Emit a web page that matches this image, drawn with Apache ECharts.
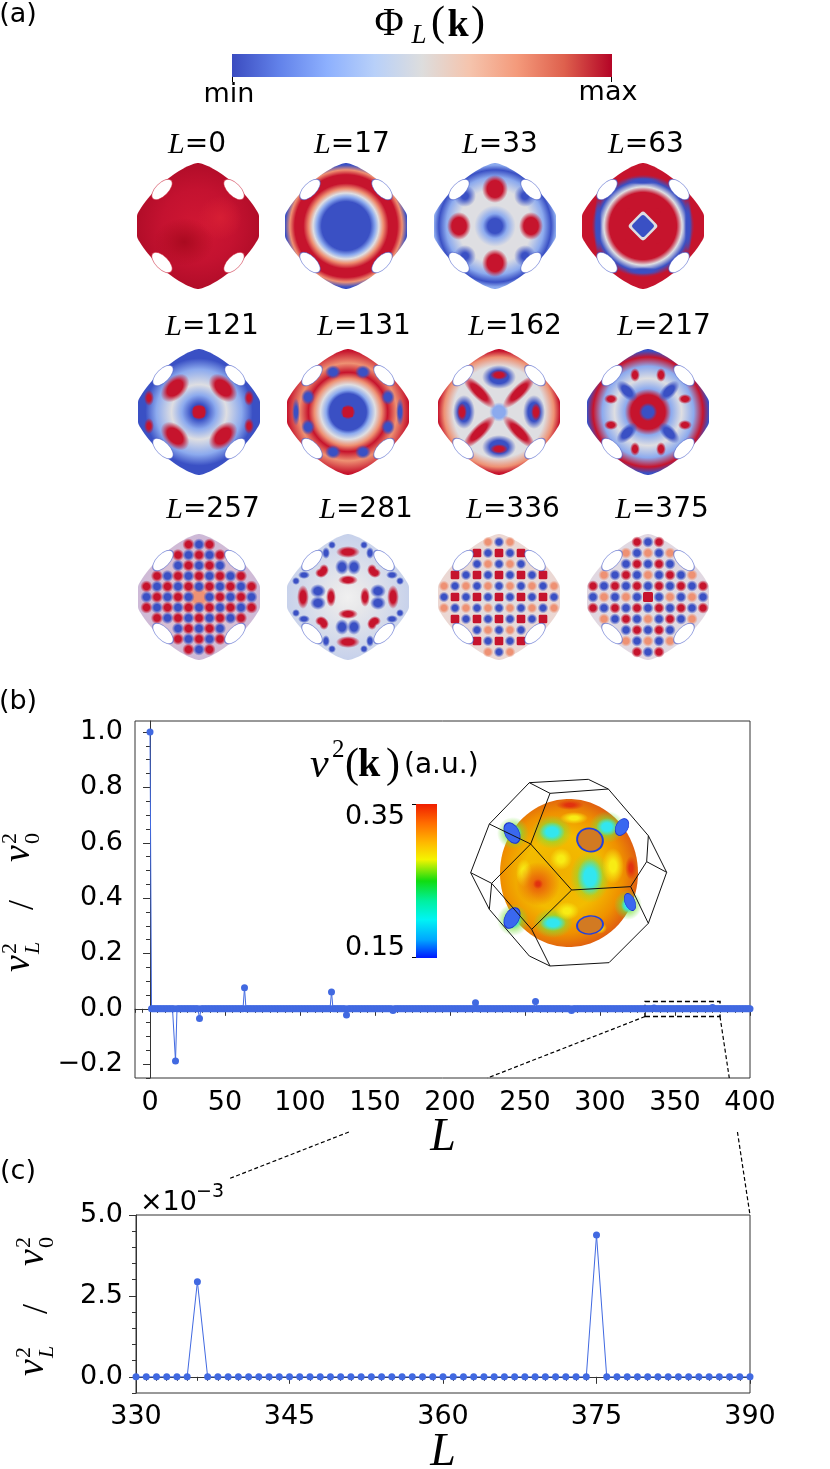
<!DOCTYPE html>
<html><head><meta charset="utf-8">
<script src="https://cdn.jsdelivr.net/npm/echarts@6/dist/echarts.min.js"></script>
<style>html,body{margin:0;padding:0;background:#fff}#c{width:830px;height:1469px}</style>
</head><body><div id="c"></div>
<script>
// ---------------- data ----------------
const peakL = [0, 17, 33, 63, 121, 131, 162, 217, 257, 281, 336, 375];
const peakV = [1.0, -0.189, -0.035, 0.076, 0.061, -0.022, -0.006, 0.022, 0.026, -0.006, 0.00294, 0.00438];
const Lmax = 400;
const xTicksB = [0, 50, 100, 150, 200, 250, 300, 350, 400];
const yTicksB = [-0.2, 0, 0.2, 0.4, 0.6, 0.8, 1.0];
const xTicksC = [330, 345, 360, 375, 390];
const yTicksC = [0, 0.0025, 0.005];
const panelLabels = ['0', '17', '33', '63', '121', '131', '162', '217', '257', '281', '336', '375'];
const zoomRange = [330, 390];
const zoomBox = [330, 380, -0.028, 0.026];

// series built from the arrays (every integer L, zero where no peak)
const seriesB = [];
for (let L = 0; L <= Lmax; L++) {
  const k = peakL.indexOf(L);
  seriesB.push([L, k >= 0 ? peakV[k] : 0]);
}
const seriesC = seriesB.filter(d => d[0] >= zoomRange[0] && d[0] <= zoomRange[1]);

// minor tick positions
const xMinorB = []; for (let k = -2; k <= 80; k++) xMinorB.push(k * 5);
const yMinorB = []; for (let k = -5; k <= 20; k++) yMinorB.push(+(k * 0.05).toFixed(2));
const yMinorC = []; for (let k = -1; k <= 10; k++) yMinorC.push(+(k * 0.0005).toFixed(4));

const BLUE = '#4169e1';
const AX = '#333';
const SANS = 'DejaVu Sans';
const SERIF = 'Liberation Serif';

// ---------------- decorative helpers ----------------
const COL = {R:[198,20,45], DR:[160,8,30], B:[58,80,196], LB:[140,170,238], W:[222,222,226], LR:[238,145,115]};
const rgba = (c, a) => `rgba(${c[0]},${c[1]},${c[2]},${a})`;
function blob(x, y, rx, ry, rot, c, soft) {
  soft = soft == null ? 0.5 : soft;
  return {type:'circle', x:x, y:y, rotation:rot || 0, scaleX:rx/10, scaleY:ry/10, silent:true,
    shape:{cx:0, cy:0, r:10},
    style:{fill:{type:'radial', x:0.5, y:0.5, r:0.5, colorStops:[
      {offset:0, color:rgba(c,1)}, {offset:soft, color:rgba(c,1)}, {offset:1, color:rgba(c,0)}]}}};
}
function sq(x, y, s, rot, c) {
  return {type:'rect', x:x, y:y, rotation:rot || 0, silent:true, shape:{x:-s/2, y:-s/2, width:s, height:s, r:s*0.15}, style:{fill:rgba(c,1)}};
}
function quad(fn) { const o = []; for (const sx of [-1,1]) for (const sy of [-1,1]) o.push(fn(sx, sy)); return o; }
function rot4(fn) { const o = []; for (let q = 0; q < 4; q++) o.push(...fn(q)); return o; }
const RAD = (sx, sy) => -sx * sy * Math.PI / 4;
const NEXP = 1.42;
function outline(a, b, n) {
  const pts = [];
  for (let i = 0; i < 160; i++) {
    const t = i / 160 * 2 * Math.PI, c = Math.cos(t), s = Math.sin(t);
    let x = a * Math.sign(c) * Math.pow(Math.abs(c), 2/n);
    const y = b * Math.sign(s) * Math.pow(Math.abs(s), 2/n);
    x = Math.max(-61, Math.min(61, x));
    pts.push([x, y]);
  }
  return pts;
}
const SHAPE = outline(65, 63, NEXP);
function inside(x, y, m) { return Math.pow(Math.abs(x)/60, NEXP) + Math.pow(Math.abs(y)/59, NEXP) <= (m || 1); }
function nearHole(x, y) { return Math.hypot(Math.abs(x) - 35, Math.abs(y) - 35.5) < 11; }
function stops(list) { return list.map(s => ({offset:s[0], color: Array.isArray(s[1]) ? rgba(s[1],1) : s[1]})); }
function lattice(step, fn, r, m) {
  const o = [];
  const n = Math.floor(62 / step);
  for (let i = -n; i <= n; i++) for (let j = -n; j <= n; j++) {
    const x = i * step, y = j * step;
    if (!inside(x, y, m || 0.95) || nearHole(x, y)) continue;
    const c = fn(i, j, x, y);
    if (c) o.push(c.sq ? sq(x, y, r * 1.6, 0, c.col) : blob(x, y, r, r, 0, c.col || c, 0.5));
  }
  return o;
}
const {R, DR, B, LB, W, LR} = COL;
function rq(q, x, y) { const c = [[1,0],[0,1],[-1,0],[0,-1]][q]; return [c[0]*x - c[1]*y, c[1]*x + c[0]*y]; }

const panels = [
  { base: [[0,'#d01733'],[0.6,'#c41230'],[1,'#b20d29']],
    blobs: [blob(-14, 16, 30, 24, 0, [170,10,32], 0), blob(22, -8, 22, 22, 0, [214,30,52], 0)] },
  { base: [[0,B],[0.4,B],[0.48,LB],[0.54,W],[0.61,LR],[0.7,R],[0.84,R],[0.92,LR],[1,B]], blobs: [] },
  { base: [[0,B],[0.12,B],[0.2,LB],[0.34,W],[0.6,W],[0.8,LB],[0.92,B],[1,LB]],
    blobs: quad((sx,sy)=>blob(sx*30, sy*30, 11, 11, 0, B, 0.3))
      .concat([blob(0,-37,13,14,0,R,0.6), blob(0,37,13,14,0,R,0.6), blob(-36,0,12,14,0,R,0.6), blob(36,0,12,14,0,R,0.6)]) },
  { base: [[0,B],[0.17,B],[0.22,W],[0.27,R],[0.55,R],[0.64,W],[0.74,B],[0.84,R],[1,R]],
    blobs: [sq(0,0,36,0,R), sq(0,0,22,Math.PI/4,W), sq(0,0,17,Math.PI/4,B),
            blob(-45,0,4,30,0,B,0.4), blob(45,0,4,30,0,B,0.4), blob(0,-45,18,4,0,B,0.4), blob(0,45,18,4,0,B,0.4)] },
  { base: [[0,R],[0.09,R],[0.13,B],[0.28,LB],[0.45,W],[0.7,LB],[0.88,B],[1,B]],
    blobs: [sq(0,0,11,0,R)].concat(quad((sx,sy)=>blob(sx*24, sy*24, 17, 11, -RAD(sx,sy), R, 0.55)))
      .concat(quad((sx,sy)=>blob(sx*50, sy*14, 5, 8, 0, R, 0.4))) },
  { base: [[0,R],[0.08,R],[0.12,B],[0.3,B],[0.36,LB],[0.45,W],[0.55,LR],[0.65,R],[0.8,LR],[1,R]],
    blobs: [sq(0,0,10,0,R)].concat(quad((sx,sy)=>blob(sx*15, sy*40, 8, 7, 0, B, 0.5)))
      .concat(quad((sx,sy)=>blob(sx*40, sy*15, 7, 8, 0, B, 0.5)))
      .concat([blob(-52,0,4,14,0,B,0.4), blob(52,0,4,14,0,B,0.4)]) },
  { base: [[0,LB],[0.1,LB],[0.16,W],[0.75,W],[0.9,LR],[1,R]],
    blobs: quad((sx,sy)=>blob(sx*20, sy*20, 22, 7, RAD(sx,sy), R, 0.5))
      .concat([blob(0,-35,17,12,0,B,0.55), blob(0,35,17,12,0,B,0.55), blob(-35,0,11,17,0,B,0.55), blob(35,0,11,17,0,B,0.55),
               blob(0,-37,9,5,0,R,0.5), blob(0,37,9,5,0,R,0.5), blob(-37,0,5,9,0,R,0.5), blob(37,0,5,9,0,R,0.5),
               blob(0,0,7,7,0,LB,0.5)]) },
  { base: [[0,B],[0.09,B],[0.15,R],[0.28,R],[0.38,LB],[0.55,W],[0.75,LB],[0.9,R],[1,B]],
    blobs: quad((sx,sy)=>blob(sx*21, sy*21, 13, 7, RAD(sx,sy), B, 0.5))
      .concat(quad((sx,sy)=>blob(sx*13, sy*37, 5, 7, 0, R, 0.5)))
      .concat(quad((sx,sy)=>blob(sx*37, sy*13, 7, 5, 0, R, 0.5))) },
  { base: [[0,LR],[0.1,LR],[0.2,[230,200,205]],[1,[205,185,215]]],
    blobs: lattice(10.5, (i,j)=> (i===0 && j===0) ? null : ((i+j)%2===0 ? R : B), 6.2, 1.02) },
  { base: [[0,'#f0f0f0'],[0.25,'#e8e8ea'],[1,[200,210,235]]],
    blobs: rot4(q => {
      const e = [];
      const P = (x,y,rx,ry,c)=>{ const p = rq(q,x,y); const sw = q%2===1; e.push(blob(p[0], p[1], sw?ry:rx, sw?rx:ry, 0, c, 0.5)); };
      P(-6,-30,7,8,B); P(6,-30,7,8,B); P(0,-45,12,6,R); P(0,-17,10,5,R);
      P(-22,-44,4,6,B); P(22,-44,4,6,B); P(-27,-24,6,5,R); P(27,-24,6,5,R);
      P(-16,-52,4,4,B); P(16,-52,4,4,B);
      return e; }) },
  { base: [[0,W],[1,[236,215,210]]],
    blobs: lattice(11, (i,j)=> (i%2===0 && j%2===0) ? {sq:true, col:R} : ((i+j)%2 ? {col:B} : {col:LR}), 5.4, 1.02) },
  { base: [[0,W],[1,[225,215,225]]],
    blobs: [sq(0,0,10,0,R)].concat(lattice(11, (i,j)=> (i===0 && j===0) ? null :
      ((Math.abs(i)===Math.abs(j)) ? R : ((i+j)%2 ? B : ((i%2===0) ? LR : R))), 5.8, 1.02)) }
];
const centersX = [[198,346,495,643],[199,348,499,648],[199,348,499,648]];
const centersY = [226, 412, 597];
const labelX = [[197,352,500,646],[212,364,515,664],[213,366,513,662]];
const labelY = [145, 327, 510];

function panelGroup(k) {
  const r = Math.floor(k/4), c = k % 4;
  const p = panels[k];
  const children = [{type:'polygon', silent:true, shape:{points:SHAPE},
    style:{fill:{type:'radial', x:0.5, y:0.5, r:0.5, colorStops:stops(p.base)}}}];
  p.blobs.forEach(b => children.push(b));
  quad((sx,sy)=> children.push({type:'circle', x:sx*36, y:sy*36.5, rotation:(sx*sy>0?1:-1)*Math.PI/4,
    scaleX:1.3, scaleY:0.64, silent:true, shape:{cx:0,cy:0,r:10}, style:{fill:'#fff', stroke:rgba(k===0?R:B,0.6), lineWidth:1}}));
  return {type:'group', x:centersX[r][c], y:centersY[r], children:children};
}

function txt(x, y, text, o) {
  return Object.assign({type:'text', x:x, y:y, silent:true,
    style:Object.assign({text:text, fill:'#000', fontFamily:SANS, fontSize:27, align:'center', verticalAlign:'middle'}, o || {})});
}

function yLabel(gx, gy) {
  const it = {fontFamily:SERIF, fontStyle:'italic'};
  return {type:'group', x:gx, y:gy, rotation:Math.PI/2, children:[
    txt(-72, 8, 'v', Object.assign({fontSize:38, align:'left', verticalAlign:'bottom'}, it)),
    txt(-54, 14, 'L', Object.assign({fontSize:22, align:'left', verticalAlign:'bottom'}, it)),
    txt(-54, -9, '2', {fontFamily:SERIF, fontSize:22, align:'left', verticalAlign:'bottom'}),
    txt(-10, 12, '/', {fontFamily:SERIF, fontSize:36, align:'left', verticalAlign:'bottom'}),
    txt(38, 8, 'v', Object.assign({fontSize:38, align:'left', verticalAlign:'bottom'}, it)),
    txt(56, 14, '0', {fontFamily:SERIF, fontSize:22, align:'left', verticalAlign:'bottom'}),
    txt(56, -9, '2', {fontFamily:SERIF, fontSize:22, align:'left', verticalAlign:'bottom'})
  ]};
}

const graphics = [];
graphics.push(txt(18, 15, '(a)'), txt(18, 702, '(b)'), txt(18, 1172, '(c)'));
graphics.push(
  txt(389, 24, 'Φ', {fontFamily:SERIF, fontSize:40}),
  txt(419, 36, 'L', {fontFamily:SERIF, fontStyle:'italic', fontSize:27}),
  txt(438, 24, '(', {fontFamily:SERIF, fontSize:42}),
  txt(458, 26, 'k', {fontFamily:SERIF, fontWeight:'bold', fontSize:38}),
  txt(478, 24, ')', {fontFamily:SERIF, fontSize:42})
);
graphics.push({type:'rect', silent:true, shape:{x:232, y:54, width:380, height:23},
  style:{fill:{type:'linear', x:0, y:0, x2:1, y2:0, colorStops:[
    {offset:0, color:'#3b4cc0'}, {offset:0.125, color:'#6282ea'}, {offset:0.25, color:'#8db0fe'},
    {offset:0.375, color:'#b8d0f9'}, {offset:0.5, color:'#dddddd'}, {offset:0.625, color:'#f5c4ad'},
    {offset:0.75, color:'#f49a7b'}, {offset:0.875, color:'#de604d'}, {offset:1, color:'#b40426'}]}}});
graphics.push({type:'line', silent:true, shape:{x1:232.5, y1:77, x2:232.5, y2:82}, style:{stroke:'#000', lineWidth:1}});
graphics.push({type:'line', silent:true, shape:{x1:611.5, y1:77, x2:611.5, y2:82}, style:{stroke:'#000', lineWidth:1}});
graphics.push(txt(229, 95, 'min'), txt(608, 93, 'max'));
for (let k = 0; k < 12; k++) {
  graphics.push(panelGroup(k));
  const r = Math.floor(k/4), c = k % 4;
  graphics.push({type:'text', x:labelX[r][c], y:labelY[r], silent:true, style:{
    text:'{a|L}{b|=' + panelLabels[k] + '}', align:'center', verticalAlign:'middle', fill:'#000',
    rich:{a:{fontFamily:SERIF, fontStyle:'italic', fontSize:30, fill:'#000'}, b:{fontFamily:SANS, fontSize:28, fill:'#000'}}}});
}
graphics.push(
  txt(310, 766, 'v', {fontFamily:SERIF, fontStyle:'italic', fontSize:42, align:'left'}),
  txt(332, 750, '2', {fontFamily:SERIF, fontSize:25, align:'left'}),
  txt(345, 766, '(', {fontFamily:SERIF, fontSize:42, align:'left'}),
  txt(358, 766, 'k', {fontFamily:SERIF, fontWeight:'bold', fontSize:40, align:'left'}),
  txt(386, 766, ')', {fontFamily:SERIF, fontSize:42, align:'left'}),
  txt(404, 766, '(a.u.)', {fontSize:28, align:'left'})
);
graphics.push({type:'rect', silent:true, shape:{x:416, y:804, width:21, height:154},
  style:{fill:{type:'linear', x:0, y:0, x2:0, y2:1, colorStops:[
    {offset:0, color:'#f01e00'}, {offset:0.12, color:'#ff6a00'}, {offset:0.25, color:'#ffb800'},
    {offset:0.36, color:'#f4f400'}, {offset:0.5, color:'#10dc10'}, {offset:0.63, color:'#00f0a0'},
    {offset:0.75, color:'#00f4f4'}, {offset:0.88, color:'#00a8ff'}, {offset:1, color:'#0018ff'}]}}});
graphics.push({type:'line', silent:true, shape:{x1:412, y1:804.5, x2:416, y2:804.5}, style:{stroke:'#000', lineWidth:1}});
graphics.push({type:'line', silent:true, shape:{x1:412, y1:957.5, x2:416, y2:957.5}, style:{stroke:'#000', lineWidth:1}});
graphics.push(txt(405, 817, '0.35', {align:'right'}), txt(405, 948, '0.15', {align:'right'}));
(function () {
  const cx = 569, cy = 873;
  const pts = []; for (let i = 0; i < 90; i++) { const t = i/90*2*Math.PI; pts.push([69*Math.cos(t), 74*Math.sin(t)]); }
  const ch = [{type:'polygon', silent:true, shape:{points:pts}, style:{fill:{type:'radial', x:0.45, y:0.5, r:0.55, colorStops:[
    {offset:0, color:'#f0b000'}, {offset:0.5, color:'#f3bc00'}, {offset:0.8, color:'#ef9000'}, {offset:1, color:'#e06010'}]}}}];
  const Y = [248,236,20], G = [120,225,60], C = [50,230,240], RR = [225,50,15], OR = [234,100,10];
  const cyan = [[-17,-41,13,10],[38,-46,11,9],[21,4,13,19],[-16,50,13,8],[-56,47,9,9],[-56,-40,9,9],[59,32,7,8]];
  cyan.forEach(q=> ch.push(blob(q[0], q[1], q[2]+7, q[3]+7, 0, G, 0.2)));
  [[44,-7,11,18],[-8,-14,11,11],[-2,38,12,9],[30,55,8,6],[-45,0,8,14],[5,-55,14,6]].forEach(q=> ch.push(blob(q[0], q[1], q[2], q[3], 0, Y, 0.3)));
  cyan.forEach(q=> ch.push(blob(q[0], q[1], q[2], q[3], 0, C, 0.45)));
  ch.push(blob(-31, 11, 22, 22, 0, OR, 0.2), blob(-31, 11, 5, 5, 0, RR, 0.4), blob(1, -68, 14, 5, 0, RR, 0.3), blob(62,-5,6,12,0,RR,0.3));
  [[21,-33,13,11.5,-0.3],[21,52,13,9,0.1]].forEach(q=> ch.push({type:'circle', x:q[0], y:q[1], rotation:q[4], scaleX:q[2]/10, scaleY:q[3]/10, silent:true,
    shape:{cx:0,cy:0,r:10}, style:{fill:'#d27a22', stroke:'#2040e0', lineWidth:1.5}}));
  [[-57,-40,7,11,0.5],[53,-46,6,9,-0.5],[-57,45,7,11,-0.5],[61,29,5,9,0.4]].forEach(q=> ch.push({type:'circle', x:q[0], y:q[1], rotation:q[4], scaleX:q[2]/10, scaleY:q[3]/10, silent:true,
    shape:{cx:0,cy:0,r:10}, style:{fill:'#3a68f0', stroke:'#1a30d0', lineWidth:1}}));
  graphics.push({type:'group', x:cx, y:cy, children:ch});
  const tf = p => [400 + p[0]/3, 680 + p[1]/3];
  const wire = [
    [[388,308],[565,298],[625,327],[745,467],[800,577],[745,730],[627,848],[450,858],[388,828],[268,688],[212,578],[268,432],[388,308]],
    [[388,308],[450,340],[625,327]], [[450,340],[392,492]], [[268,432],[392,492],[515,630],[692,620]],
    [[392,492],[275,610],[395,748],[515,630]], [[212,578],[275,610]], [[395,748],[450,858]],
    [[745,467],[740,545],[800,577]], [[740,545],[692,620],[745,730]], [[275,610],[268,688]]
  ];
  wire.forEach(w => graphics.push({type:'polyline', silent:true, shape:{points:w.map(tf)}, style:{stroke:'#111', lineWidth:1, fill:null}}));
})();
graphics.push(txt(443, 1138, 'L', {fontFamily:SERIF, fontStyle:'italic', fontSize:46}));
graphics.push(txt(443, 1453, 'L', {fontFamily:SERIF, fontStyle:'italic', fontSize:46}));
graphics.push(yLabel(30, 900), yLabel(44, 1304));
graphics.push(txt(140, 1203, '×10', {align:'left', fontSize:27}), txt(196, 1192, '−3', {align:'left', fontSize:19}));

// ---------------- chart ----------------
const fmt1 = v => (v < 0 ? '−' : '') + Math.abs(v).toFixed(1);
const labelStyle = {color:'#000', fontFamily:SANS, fontSize:27};
function majorAx(gi, min, max, vals, fmt, margin, isX) {
  return {type:'value', gridIndex:gi, min:min, max:max, position: isX ? 'bottom' : 'left',
    axisLine:{show:true, lineStyle:{color:AX, width:1}},
    axisTick:{show:true, customValues:vals, length:7, lineStyle:{color:AX, width:1}},
    axisLabel:{show:true, customValues:vals, formatter:fmt, margin:margin, ...labelStyle},
    splitLine:{show:false}};
}
function minorAx(gi, min, max, vals, isX) {
  return {type:'value', gridIndex:gi, min:min, max:max, position: isX ? 'bottom' : 'left',
    axisLine:{show:false}, axisLabel:{show:false}, splitLine:{show:false},
    axisTick:{show:true, customValues:vals, length:4, lineStyle:{color:AX, width:1}}};
}

const option = {
  animation:false,
  backgroundColor:'#fff',
  grid:[
    {left:135, top:721, width:615, height:357, show:true, borderColor:AX, borderWidth:1, backgroundColor:'transparent'},
    {left:136, top:1215, width:614, height:178, show:true, borderColor:AX, borderWidth:1, backgroundColor:'transparent'}
  ],
  xAxis:[
    majorAx(0, -10, 400, xTicksB, v => String(v), 11, true),
    minorAx(0, -10, 400, xMinorB, true),
    {type:'value', gridIndex:1, min:zoomRange[0], max:zoomRange[1], interval:15, position:'bottom',
      axisLine:{show:true, lineStyle:{color:AX}}, axisTick:{show:true, length:7, lineStyle:{color:AX}},
      minorTick:{show:true, splitNumber:15, length:4, lineStyle:{color:AX}},
      axisLabel:{show:true, margin:10, formatter: v => String(v), ...labelStyle}, splitLine:{show:false}}
  ],
  yAxis:[
    majorAx(0, -0.25, 1.04, yTicksB, fmt1, 12, false),
    minorAx(0, -0.25, 1.04, yMinorB, false),
    majorAx(1, -0.0005, 0.005, yTicksC, v => (v*1000).toFixed(1), 13, false),
    minorAx(1, -0.0005, 0.005, yMinorC, false)
  ],
  series:[
    {type:'line', xAxisIndex:0, yAxisIndex:0, data:seriesB, showSymbol:false, color:BLUE,
      lineStyle:{color:BLUE, width:1}, z:3,
      markArea:{silent:true, itemStyle:{color:'rgba(0,0,0,0)', borderColor:'#000', borderWidth:1.5, borderType:[5,3]},
        data:[[{xAxis:zoomBox[0], yAxis:zoomBox[2]}, {xAxis:zoomBox[1], yAxis:zoomBox[3]}]]}},
    {type:'scatter', xAxisIndex:0, yAxisIndex:0, data:seriesB, symbol:'circle', symbolSize:7,
      itemStyle:{color:BLUE, opacity:1}, z:4, silent:true, large:false},
    {type:'line', xAxisIndex:2, yAxisIndex:2, data:seriesC, showSymbol:false, color:BLUE,
      lineStyle:{color:BLUE, width:1}, z:3},
    {type:'scatter', xAxisIndex:2, yAxisIndex:2, data:seriesC, symbol:'circle', symbolSize:7,
      itemStyle:{color:BLUE, opacity:1}, z:4, silent:true}
  ],
  graphic:{elements:graphics}
};

const chart = echarts.init(document.getElementById('c'), null, {renderer:'canvas'});
chart.setOption(option);

const A1 = chart.convertToPixel({xAxisIndex:0, yAxisIndex:0}, [zoomBox[0], zoomBox[2]]);
const A2 = chart.convertToPixel({xAxisIndex:0, yAxisIndex:0}, [zoomBox[1], zoomBox[2]]);
const C1 = chart.convertToPixel({xAxisIndex:2, yAxisIndex:2}, [zoomRange[0], 0.005]);
const C2 = chart.convertToPixel({xAxisIndex:2, yAxisIndex:2}, [zoomRange[1], 0.005]);
const bBottom = chart.convertToPixel({xAxisIndex:0, yAxisIndex:0}, [0, -0.25])[1];
function seg(P, Q, y0, y1) {
  const t0 = (y0 - P[1]) / (Q[1] - P[1]), t1 = (y1 - P[1]) / (Q[1] - P[1]);
  return {type:'line', silent:true, shape:{x1:P[0]+t0*(Q[0]-P[0]), y1:y0, x2:P[0]+t1*(Q[0]-P[0]), y2:y1},
    style:{stroke:'#000', lineWidth:1.2, lineDash:[4,2.5]}};
}
graphics.push(seg(A1, C1, A1[1], bBottom), seg(A1, C1, bBottom + 54, C1[1] - 36));
graphics.push(seg(A2, C2, A2[1], bBottom), seg(A2, C2, bBottom + 54, C2[1]));
option.graphic = {elements:graphics};
chart.setOption(option, true);
</script>
</body></html>
